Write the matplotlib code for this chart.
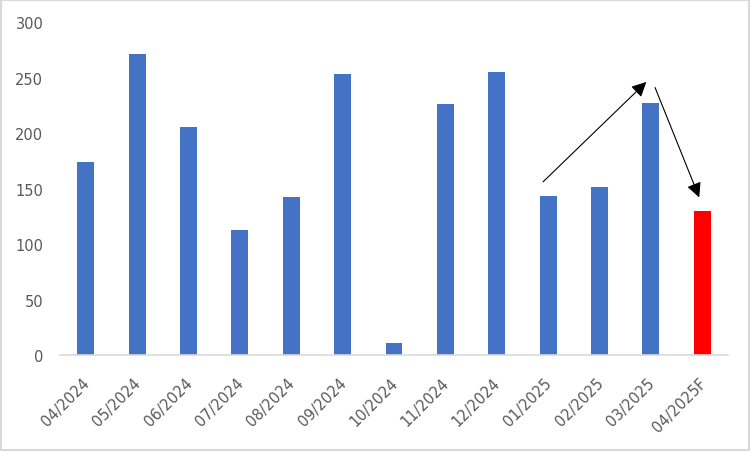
import matplotlib
matplotlib.use('Agg')
import matplotlib.pyplot as plt
import matplotlib.transforms as mtransforms
from matplotlib.patches import Rectangle

months = ['04/2024', '05/2024', '06/2024', '07/2024', '08/2024', '09/2024',
          '10/2024', '11/2024', '12/2024', '01/2025', '02/2025', '03/2025',
          '04/2025F']
values = [174, 271, 205, 113, 142, 253, 11, 226, 255, 143, 151, 227, 130]
bar_colors = ['#4472C4'] * 12 + ['#FF0000']

# arrows (data coords): start -> end
arrow_up = ((8.9, 156), (10.91, 246))
arrow_down = ((11.08, 241), (11.94, 142))

fig = plt.figure(figsize=(7.51, 4.52), dpi=100)
ax = fig.add_axes([0.0799, 0.2124, 0.8895, 0.7366])

x = list(range(len(months)))
ax.bar(x, values, width=0.33, color=bar_colors)

ax.set_xlim(-0.5, len(months) - 0.5)
ax.set_ylim(0, 300)
ax.set_yticks(range(0, 301, 50))
ax.set_xticks(x)
ax.set_xticklabels(months, rotation=45, ha='right', rotation_mode='anchor')

for s in ['top', 'right', 'left']:
    ax.spines[s].set_visible(False)
ax.spines['bottom'].set_color('#D9D9D9')
ax.spines['bottom'].set_linewidth(1.2)
ax.tick_params(axis='both', length=0, labelsize=10.5, colors='#595959')
ax.tick_params(axis='x', pad=14)
ax.tick_params(axis='y', pad=12)

# nudge rotated labels a little left, like the original
shift = mtransforms.ScaledTranslation(-4 / 100, 0, fig.dpi_scale_trans)
for lbl in ax.get_xticklabels():
    lbl.set_transform(lbl.get_transform() + shift)

for (x0, y0), (x1, y1) in [arrow_up, arrow_down]:
    ax.annotate('', xy=(x1, y1), xytext=(x0, y0), annotation_clip=False,
                arrowprops=dict(arrowstyle='-|>', color='black', lw=0.8,
                                mutation_scale=22, shrinkA=0, shrinkB=0))

fig.patches.append(Rectangle((0.001, 0.002), 0.997, 0.995, transform=fig.transFigure,
                             fill=False, edgecolor='#D9D9D9', lw=1.5))

plt.savefig('out.png', dpi=100)
plt.close('all')
